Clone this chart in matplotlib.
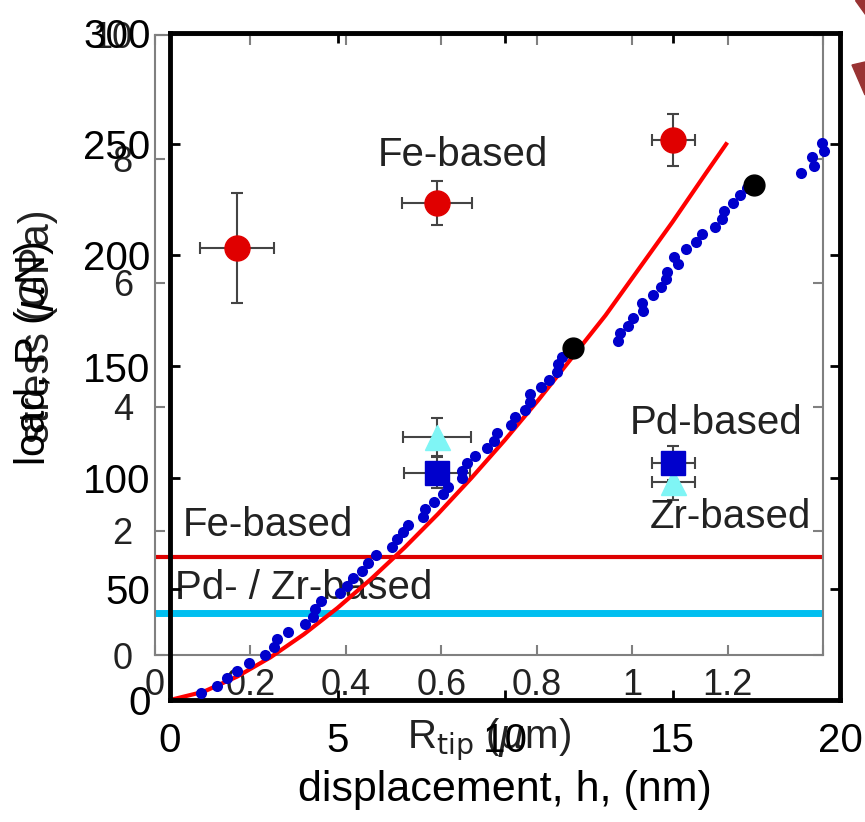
import matplotlib.pyplot as plt
from matplotlib.patches import Polygon

plt.rcParams['font.family'] = ['Liberation Sans', 'DejaVu Sans']

# load-displacement curve (nm, uN)
h = [0.93, 1.40, 1.70, 2.00, 2.36, 2.84, 3.10, 3.19, 3.52, 4.03, 4.27, 4.33, 4.51,
     5.07, 5.28, 5.46, 5.73, 5.91, 6.15, 6.63, 6.78, 6.96, 7.10, 7.55, 7.61, 7.88,
     8.15, 8.30, 8.72, 8.72, 8.87, 9.10, 9.46, 9.67, 9.76, 10.18, 10.30, 10.60,
     10.75, 10.75, 11.07, 11.31, 11.55, 11.58, 11.70,
     13.37, 13.43, 13.67, 13.82, 14.12, 14.09, 14.42, 14.66, 14.81, 14.84, 15.16,
     15.04, 15.40, 15.70, 15.88, 16.27, 16.48, 16.54, 16.81, 17.01, 17.22,
     18.84, 19.22, 19.16, 19.52, 19.46]
P = [3.1, 6.3, 9.9, 13.0, 16.6, 20.2, 23.8, 27.4, 30.6, 34.2, 37.3, 40.9, 44.5,
     48.1, 51.3, 54.9, 58.0, 61.6, 65.2, 68.8, 72.4, 75.6, 78.7, 82.3, 85.9, 89.1,
     92.7, 95.8, 99.8, 103.0, 106.6, 109.7, 113.3, 116.5, 120.1, 123.7, 127.3, 130.4,
     134.0, 137.6, 140.8, 143.9, 147.5, 151.1, 154.3,
     161.5, 165.1, 168.2, 171.8, 175.0, 178.6, 182.2, 185.8, 189.4, 192.5, 196.1,
     199.3, 202.9, 206.0, 209.6, 212.7, 216.3, 219.9, 223.5, 227.1, 230.3,
     237.0, 240.2, 244.2, 246.9, 250.5]

# hertzian fit
h_fit = [0, 1, 2, 3, 4, 5, 6, 7, 8, 9, 10, 11, 12, 13, 14, 15, 16, 16.6]
P_fit = [0, 3.7, 10.5, 19.2, 29.6, 41.4, 54.4, 68.5, 83.7, 99.9, 117, 135, 154,
         173, 194, 215, 237, 250]

# pop-in points
h_pop = [12.03, 17.43]
P_pop = [158.3, 231.6]

# inset: stress vs tip radius
fe_r = [0.172, 0.591, 1.086]
fe_s = [6.56, 7.29, 8.31]
fe_rerr = [0.078, 0.073, 0.045]
fe_serr = [0.89, 0.35, 0.42]

pd_r = [0.591, 1.086]
pd_s = [2.94, 3.10]
pd_rerr = [0.070, 0.045]
pd_serr = [0.25, 0.27]

zr_r = [0.591, 1.086]
zr_s = [3.52, 2.79]
zr_rerr = [0.072, 0.045]
zr_serr = [0.31, 0.29]

fe_yield = 1.58
pdzr_yield = 0.68

fig = plt.figure(figsize=(8.65, 8.22), dpi=100)
ax_in = fig.add_axes([155/865, 167/822, 668/865, 620/822])
ax = fig.add_axes([170/865, 122/822, 670/865, 667/822])
ax.patch.set_alpha(0)

txt = '#222222'
grey = '#808080'
fs_in = 29

ax_in.axhline(fe_yield, color='#dd0000', lw=3)
ax_in.axhline(pdzr_yield, color='#00bff0', lw=5)
ebkw = dict(ls='none', ecolor='#444444', elinewidth=1.5, capsize=4, capthick=1.5)
ax_in.errorbar(fe_r, fe_s, xerr=fe_rerr, yerr=fe_serr, marker='o', ms=18,
               mfc='#e00000', mec='#e00000', **ebkw)
ax_in.errorbar(zr_r, zr_s, xerr=zr_rerr, yerr=zr_serr, marker='^', ms=18,
               mfc='#7ff5f5', mec='#7ff5f5', **ebkw)
ax_in.errorbar(pd_r, pd_s, xerr=pd_rerr, yerr=pd_serr, marker='s', ms=17,
               mfc='#0000cc', mec='#0000cc', **ebkw)

ax_in.text(0.646, 8.06, 'Fe-based', ha='center', va='center', fontsize=fs_in, color=txt)
ax_in.text(0.059, 2.10, 'Fe-based', ha='left', va='center', fontsize=fs_in, color=txt)
ax_in.text(0.042, 1.08, 'Pd- / Zr-based', ha='left', va='center', fontsize=fs_in, color=txt)
ax_in.text(1.176, 3.74, 'Pd-based', ha='center', va='center', fontsize=fs_in, color=txt)
ax_in.text(1.205, 2.23, 'Zr-based', ha='center', va='center', fontsize=fs_in, color=txt)

ax_in.set_xlim(0, 1.4)
ax_in.set_ylim(0, 10)
ax_in.set_xticks([0, 0.2, 0.4, 0.6, 0.8, 1.0, 1.2, 1.4])
ax_in.set_xticklabels(['0', '0.2', '0.4', '0.6', '0.8', '1', '1.2', ''])
ax_in.set_yticks([0, 2, 4, 6, 8, 10])
ax_in.set_yticklabels(['0', '2', '4', '6', '8', '10'])
ax_in.tick_params(direction='in', length=7, width=1.5, color=grey, labelsize=26,
                  labelcolor=txt, top=True, right=True)
ax_in.tick_params(axis='x', pad=9)
ax_in.tick_params(axis='y', pad=16)
for s in ax_in.spines.values():
    s.set_color(grey)
    s.set_linewidth(1.5)
ax_in.set_xlabel(r'R$_{\rm tip}$ ($\mu$m)', fontsize=fs_in, color=txt)
ax_in.set_ylabel('stress (GPa)', fontsize=30, color=txt)
ax_in.xaxis.set_label_coords(0.5, -0.1)
ax_in.yaxis.set_label_coords(-0.145, 0.53)

# main load-displacement axes on top
ax.plot(h_fit, P_fit, color='#ff0000', lw=3, zorder=2)
ax.plot(h, P, 'o', color='#0000cc', ms=8, mec='none', zorder=3)
ax.plot(h_pop, P_pop, 'o', color='black', ms=15, zorder=4)

ax.set_xlim(0, 20)
ax.set_ylim(0, 300)
ax.set_xticks([0, 5, 10, 15, 20])
ax.set_yticks([0, 50, 100, 150, 200, 250, 300])
ax.tick_params(direction='in', length=7, width=2, labelsize=29, top=True, right=True)
ax.tick_params(axis='x', pad=16)
ax.tick_params(axis='y', pad=14)
for s in ax.spines.values():
    s.set_linewidth(3.5)
ax.set_xlabel('displacement, h, (nm)', fontsize=31)
ax.set_ylabel(r'load, P ($\mu$N)', fontsize=30)
ax.xaxis.set_label_coords(0.5, -0.105)
ax.yaxis.set_label_coords(-0.17, 0.52)

# arrow fragment at the top right corner
fig.add_artist(Polygon([[852/865, 1 - 65/822], [865/865, 1 - 62/822],
                        [865/865, 1 - 95/822]], closed=True, color='#993333'))
fig.add_artist(Polygon([[855/865, 1.0], [865/865, 1.0], [865/865, 1 - 14/822]],
                       closed=True, color='#993333'))

fig.savefig('out.png', dpi=100)
